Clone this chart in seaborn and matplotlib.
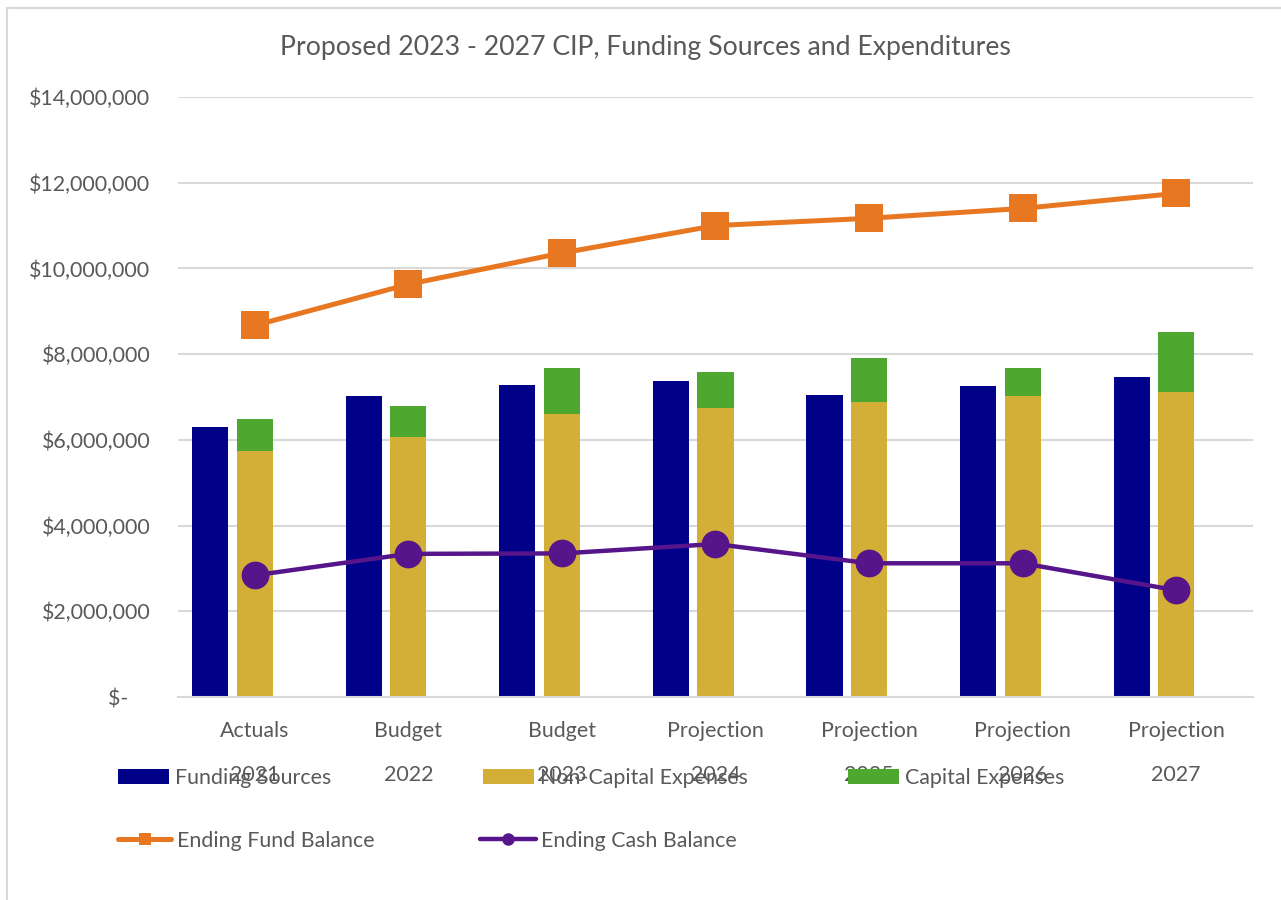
import numpy as np
import pandas as pd
import seaborn as sns
import matplotlib.pyplot as plt
from matplotlib.patches import Patch, Rectangle
from matplotlib.lines import Line2D
from matplotlib.ticker import FixedLocator

# ---- data ---------------------------------------------------------------
stages = ["Actuals", "Budget", "Budget", "Projection", "Projection", "Projection", "Projection"]
years = ["2021", "2022", "2023", "2024", "2025", "2026", "2027"]
funding_sources = [6310000, 7020000, 7270000, 7380000, 7040000, 7250000, 7470000]
non_capital_expenses = [5740000, 6070000, 6610000, 6740000, 6880000, 7020000, 7120000]
capital_expenses = [750000, 720000, 1060000, 840000, 1030000, 650000, 1390000]
ending_fund_balance = [8670000, 9630000, 10360000, 11000000, 11170000, 11400000, 11750000]
ending_cash_balance = [2840000, 3340000, 3350000, 3570000, 3120000, 3120000, 2490000]
y_ticks = [0, 2000000, 4000000, 6000000, 8000000, 10000000, 12000000, 14000000]
y_tick_labels = ["$-    ", "$2,000,000", "$4,000,000", "$6,000,000", "$8,000,000",
                 "$10,000,000", "$12,000,000", "$14,000,000"]
title = "Proposed 2023 - 2027 CIP, Funding Sources and Expenditures"

# ---- styling --------------------------------------------------------------
C_FUND = "#000088"
C_NONCAP = "#D4AF37"
C_CAP = "#4EA72E"
C_EFB = "#E87722"
C_ECB = "#56158A"
C_TEXT = "#595959"
C_GRID = "#D9D9D9"
FS = 15.4

sns.set_theme(style="white")
plt.rcParams["font.family"] = ["Lato", "DejaVu Sans"]

W, H = 1281, 900
fig = plt.figure(figsize=(W / 100, H / 100), dpi=100)
ax = fig.add_axes([178 / W, 1 - 697 / H, (1253 - 178) / W, (697 - 97) / H])

df = pd.DataFrame({
    "pos": np.arange(len(years), dtype=float),
    "funding": funding_sources,
    "noncap": non_capital_expenses,
    "cap": capital_expenses,
    "efb": ending_fund_balance,
    "ecb": ending_cash_balance,
})
df["total"] = df["noncap"] + df["cap"]
df["pos_fund"] = df["pos"] - 0.29

bar_w = 0.235
sns.barplot(data=df, x="pos_fund", y="funding", native_scale=True, width=bar_w,
            color=C_FUND, saturation=1, errorbar=None, linewidth=0, ax=ax, zorder=2)
sns.barplot(data=df, x="pos", y="total", native_scale=True, width=bar_w,
            color=C_CAP, saturation=1, errorbar=None, linewidth=0, ax=ax, zorder=2)
sns.barplot(data=df, x="pos", y="noncap", native_scale=True, width=bar_w,
            color=C_NONCAP, saturation=1, errorbar=None, linewidth=0, ax=ax, zorder=2)

sns.lineplot(data=df, x="pos", y="efb", color=C_EFB, linewidth=3.6, marker="s",
             markersize=20, markeredgewidth=0, ax=ax, zorder=4)
sns.lineplot(data=df, x="pos", y="ecb", color=C_ECB, linewidth=3.2, marker="o",
             markersize=20, markeredgewidth=0, ax=ax, zorder=4)

# ---- axes -----------------------------------------------------------------
ax.set_xlim(-0.5, len(years) - 0.5)
ax.set_ylim(0, 14000000)
ax.set_yticks(y_ticks)
ax.set_yticklabels(y_tick_labels)
ax.yaxis.grid(True, color=C_GRID, linewidth=1.5, zorder=0)
ax.set_axisbelow(True)
ax.set_xlabel("")
ax.set_ylabel("")

ax.set_xticks(df["pos"])
ax.set_xticklabels([f"{s}\n{y}" for s, y in zip(stages, years)])
ax.xaxis.set_minor_locator(FixedLocator(np.arange(len(years) + 1) - 0.5))
ax.tick_params(axis="x", which="major", length=0, pad=17, labelsize=FS, labelcolor=C_TEXT)
ax.tick_params(axis="x", which="minor", length=67, width=1.5, color=C_GRID, direction="out")
ax.tick_params(axis="y", length=0, pad=20, labelsize=FS, labelcolor=C_TEXT)
for lab in ax.get_xticklabels():
    lab.set_linespacing(2.55)
    lab.set_verticalalignment("top")

for side in ["left", "right", "top"]:
    ax.spines[side].set_visible(False)
ax.spines["bottom"].set_color(C_GRID)
ax.spines["bottom"].set_linewidth(1.5)

# ---- title ----------------------------------------------------------------
fig.text(645 / W, 1 - 47 / H, title, ha="center", va="center", fontsize=19.2, color=C_TEXT)

# ---- legend ---------------------------------------------------------------
legend_items = [
    (Patch(facecolor=C_FUND, edgecolor="none"), "Funding Sources", 118, 778, 2.4),
    (Patch(facecolor=C_NONCAP, edgecolor="none"), "Non-Capital Expenses", 483, 778, 2.4),
    (Patch(facecolor=C_CAP, edgecolor="none"), "Capital Expenses", 848, 778, 2.4),
    (Line2D([], [], color=C_EFB, linewidth=3.6, marker="s", markersize=9, markeredgewidth=0),
     "Ending Fund Balance", 118, 841, 2.5),
    (Line2D([], [], color=C_ECB, linewidth=3.2, marker="o", markersize=9, markeredgewidth=0),
     "Ending Cash Balance", 480, 841, 2.6),
]
for handle, label, lx, ly, hl in legend_items:
    fig.legend([handle], [label], loc="center left", bbox_to_anchor=(lx / W, 1 - ly / H),
               frameon=False, fontsize=FS, labelcolor=C_TEXT, handlelength=hl,
               handleheight=0.75, handletextpad=0.25, borderpad=0, borderaxespad=0)

# ---- chart border ---------------------------------------------------------
fig.add_artist(Rectangle((7 / W, -0.1), 1.2, 1 - 8 / H + 0.1, transform=fig.transFigure,
                         fill=False, edgecolor=C_GRID, linewidth=1.5))

fig.savefig("out.png", dpi=100)
